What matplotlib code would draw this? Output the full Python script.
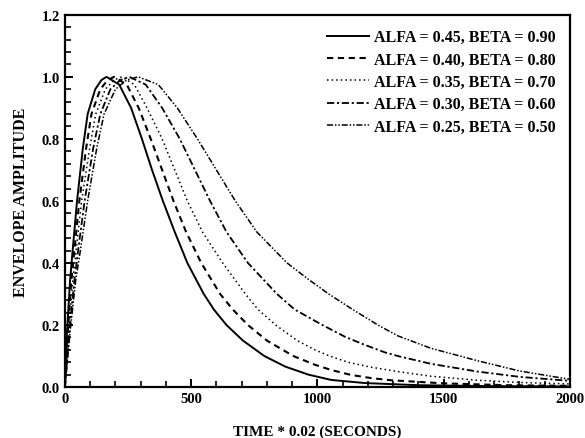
import matplotlib
matplotlib.use("Agg")
import matplotlib.pyplot as plt
from matplotlib.ticker import MultipleLocator, FixedLocator, FixedFormatter

plt.rcParams["font.family"] = ["Liberation Serif", "DejaVu Serif"]

# Values (time * 0.02 s, normalised amplitude)
t_a45 = [0, 8, 20, 31, 48, 71, 90, 120, 145, 165, 215, 262, 305, 345, 388, 435, 485, 550,
         590, 640, 705, 790, 873, 965, 1055, 1188, 1400, 1700, 2000]
y_a45 = [0.0, 0.175, 0.34, 0.445, 0.6, 0.77, 0.88, 0.96, 0.99, 1.0, 0.975, 0.9, 0.8, 0.7,
         0.6, 0.5, 0.4, 0.3, 0.25, 0.2, 0.15, 0.1, 0.066, 0.04, 0.023, 0.013, 0.006, 0.003,
         0.002]

t_a40 = [0, 11, 25, 38, 57, 84, 105, 140, 170, 195, 245, 292, 340, 385, 430, 480, 540, 615,
         665, 725, 800, 905, 990, 1055, 1134, 1213, 1291, 1500, 1750, 2000]
y_a40 = [0.0, 0.175, 0.34, 0.445, 0.6, 0.77, 0.88, 0.96, 0.99, 1.0, 0.975, 0.9, 0.8, 0.7,
         0.6, 0.5, 0.4, 0.3, 0.25, 0.2, 0.15, 0.1, 0.072, 0.055, 0.039, 0.029, 0.022, 0.012,
         0.006, 0.004]

t_a35 = [0, 14, 31, 45, 66, 98, 122, 160, 195, 225, 275, 325, 385, 435, 485, 545, 625, 715,
         765, 835, 920, 990, 1055, 1122, 1213, 1319, 1450, 1634, 1800, 2000]
y_a35 = [0.0, 0.175, 0.34, 0.445, 0.6, 0.77, 0.88, 0.96, 0.99, 1.0, 0.975, 0.9, 0.8, 0.7,
         0.6, 0.5, 0.4, 0.3, 0.25, 0.2, 0.15, 0.12, 0.098, 0.08, 0.064, 0.05, 0.035, 0.022,
         0.015, 0.01]

t_a30 = [0, 17, 37, 53, 78, 112, 140, 180, 220, 255, 320, 385, 455, 515, 575, 640, 725, 840,
         910, 1020, 1110, 1188, 1267, 1319, 1450, 1634, 1800, 2000]
y_a30 = [0.0, 0.175, 0.34, 0.445, 0.6, 0.77, 0.88, 0.96, 0.99, 1.0, 0.975, 0.9, 0.8, 0.7,
         0.6, 0.5, 0.4, 0.3, 0.25, 0.2, 0.162, 0.136, 0.112, 0.1, 0.075, 0.05, 0.033, 0.02]

t_a25 = [0, 20, 42, 62, 90, 126, 155, 200, 245, 290, 370, 445, 525, 600, 675, 760, 880, 960,
         1045, 1140, 1240, 1319, 1450, 1634, 1800, 2000]
y_a25 = [0.0, 0.175, 0.34, 0.445, 0.6, 0.77, 0.88, 0.96, 0.99, 1.0, 0.975, 0.9, 0.8, 0.7,
         0.6, 0.5, 0.4, 0.35, 0.3, 0.25, 0.2, 0.165, 0.125, 0.085, 0.052, 0.025]

labels = [
    "ALFA = 0.45, BETA = 0.90",
    "ALFA = 0.40, BETA = 0.80",
    "ALFA = 0.35, BETA = 0.70",
    "ALFA = 0.30, BETA = 0.60",
    "ALFA = 0.25, BETA = 0.50",
]

y_tick_labels = ["0.0", "0.2", "0.4", "0.6", "0.8", "1.0", "1.2"]

fig = plt.figure(figsize=(5.85, 4.39), dpi=100)
ax = fig.add_axes([0.111, 0.116, 0.863, 0.848])

styles = [
    dict(linestyle="-", linewidth=1.4),
    dict(linestyle=(0, (3.0, 2.2)), linewidth=1.5),
    dict(linestyle=(0, (1.0, 2.0)), linewidth=1.1),
    dict(linestyle=(0, (4.0, 1.5, 1.2, 1.5)), linewidth=1.3),
    dict(linestyle=(0, (4.0, 1.2, 1.0, 1.2, 1.0, 1.2)), linewidth=1.1),
]

series = [(t_a45, y_a45), (t_a40, y_a40), (t_a35, y_a35), (t_a30, y_a30), (t_a25, y_a25)]
for (t, y), lab, st in zip(series, labels, styles):
    ax.plot(t, y, color="black", label=lab, **st)

ax.set_xlim(0, 2000)
ax.set_ylim(0, 1.2)

ax.xaxis.set_major_locator(MultipleLocator(500))
ax.xaxis.set_minor_locator(MultipleLocator(100))
ax.yaxis.set_major_locator(FixedLocator([0.0, 0.2, 0.4, 0.6, 0.8, 1.0, 1.2]))
ax.yaxis.set_major_formatter(FixedFormatter(y_tick_labels))
ax.yaxis.set_minor_locator(MultipleLocator(0.04))

ax.tick_params(which="both", direction="in", top=False, right=False)
ax.tick_params(which="major", length=6, width=1.4, labelsize=10.5)
ax.tick_params(which="minor", length=4, width=1.2)
for lab in ax.get_xticklabels() + ax.get_yticklabels():
    lab.set_fontweight("bold")

for sp in ax.spines.values():
    sp.set_linewidth(1.6)

ax.set_xlabel("TIME * 0.02 (SECONDS)", fontsize=11, fontweight="bold", labelpad=14)
ax.set_ylabel("ENVELOPE AMPLITUDE", fontsize=11.5, fontweight="bold", labelpad=9)

leg = ax.legend(loc="upper right", frameon=False, handlelength=2.6, handletextpad=0.3,
                labelspacing=0.4, borderaxespad=0.5,
                prop=dict(family="Liberation Serif", weight="bold", size=11.5))

fig.savefig("out.png", dpi=100)
